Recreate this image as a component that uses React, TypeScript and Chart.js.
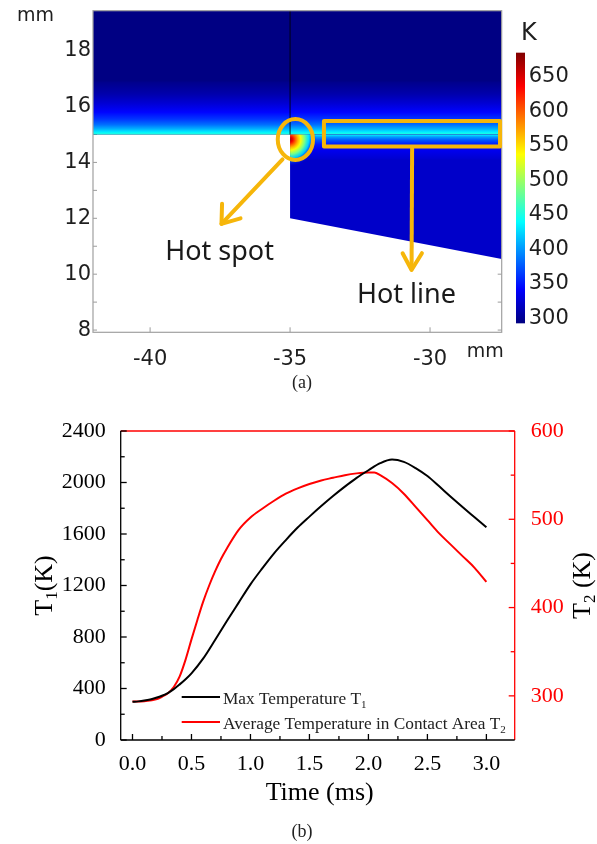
import React, { useEffect, useRef } from "react";
import { Chart, registerables } from "chart.js";
Chart.register(...registerables);

const SANS = "'DejaVu Sans', sans-serif";
const LABEL_SANS = "'Noto Sans', sans-serif";
const SERIF = "'Liberation Serif', 'Times New Roman', serif";
const ORANGE = "#F6B60A";

// ---------------- (a) temperature field ----------------
const mapXRange = [-42.04, -27.44];
const mapYRange = [7.92, 19.43];
const mapXTicks = [-40, -35, -30];
const mapYTicks = [8, 10, 12, 14, 16, 18];
const mapTickMarksY = [8, 9, 10, 11, 12, 13, 14, 15, 16, 17, 18, 19];
const colorbarTicks = [300, 350, 400, 450, 500, 550, 600, 650];
const colorbarRange = [292.8, 684.8];
const colorbarAxisRange = [279.8, 745.6];
const interfaceY = 15.0;
const upperProfileY = [15.0, 15.08, 15.2, 15.35, 15.55, 15.8, 16.1, 16.45, 16.9];
const upperProfileT = [455, 435, 410, 385, 362, 343, 326, 310, 297];
const upperBaseT = 294;
const lowerRegionX = [-35, -27.44, -27.44, -35];
const lowerRegionY = [15, 15, 10.54, 12.0];
const lowerProfileY = [15.0, 14.92, 14.8, 14.65, 14.45, 14.1];
const lowerProfileT = [440, 405, 375, 352, 336, 323];
const lowerBaseT = 321;
const hotSpotCenter = [-35.0, 14.82];
const hotSpotRadius = [0.95, 0.95];
const hotSpotR = [0, 0.1, 0.2, 0.3, 0.4, 0.55, 0.7, 0.85, 1.0];
const hotSpotT = [665, 640, 600, 565, 535, 485, 435, 385, 340];
const domainLineX = -35;

const spotEllipseCenter = [-34.81, 14.82];
const spotEllipseRadii = [0.63, 0.73];
const lineRectX = [-33.79, -27.5];
const lineRectY = [14.57, 15.48];
const spotArrowX = [-35.27, -37.45];
const spotArrowY = [14.11, 11.8];
const spotArrowHeadX = [-37.43, -37.45, -36.77];
const spotArrowHeadY = [12.52, 11.8, 12.0];
const lineArrowX = [-30.64, -30.66];
const lineArrowY = [14.6, 10.15];
const lineArrowHeadX = [-30.98, -30.66, -30.29];
const lineArrowHeadY = [10.75, 10.15, 10.75];
const annotationLabels = ["Hot spot", "Hot line"];
const annotationLabelX = [-39.46, -32.61];
const annotationLabelY = [10.51, 8.97];

// ---------------- (b) temperature history ----------------
const t1Time = [0, 0.05, 0.1, 0.15, 0.2, 0.25, 0.3, 0.35, 0.4, 0.45, 0.5, 0.6, 0.7, 0.8, 0.9, 1.0, 1.1, 1.2, 1.3, 1.4, 1.5, 1.6, 1.7, 1.8, 1.9, 2.0, 2.1, 2.2, 2.3, 2.4, 2.5, 2.6, 2.7, 2.8, 2.9, 3.0];
const t1Values = [297, 300, 306, 315, 328, 344, 365, 395, 432, 472, 518, 634, 777, 924, 1067, 1209, 1333, 1450, 1553, 1650, 1735, 1817, 1895, 1968, 2036, 2095, 2150, 2178, 2160, 2112, 2050, 1970, 1888, 1808, 1730, 1652];
const t2Time = [0, 0.1, 0.2, 0.25, 0.3, 0.35, 0.4, 0.45, 0.5, 0.55, 0.6, 0.65, 0.7, 0.75, 0.8, 0.9, 1.0, 1.1, 1.2, 1.3, 1.4, 1.5, 1.6, 1.7, 1.8, 1.9, 2.0, 2.05, 2.1, 2.2, 2.3, 2.4, 2.5, 2.6, 2.7, 2.8, 2.9, 3.0];
const t2Values = [293.5, 294, 296, 299, 303, 310, 322, 341, 364, 386, 407, 425, 441, 455, 467, 488, 502, 512, 521, 529, 535, 540, 544, 547, 550, 552, 553, 553, 550, 541, 529, 514, 499, 484, 471, 458, 445, 429];
const timeRange = [-0.1, 3.24];
const timeTicks = [0, 0.5, 1.0, 1.5, 2.0, 2.5, 3.0];
const timeMinorTicks = [0.25, 0.75, 1.25, 1.75, 2.25, 2.75];
const t1Range = [0, 2400];
const t1Ticks = [0, 400, 800, 1200, 1600, 2000, 2400];
const t1MinorTicks = [200, 600, 1000, 1400, 1800, 2200];
const t2Range = [250, 600];
const t2Ticks = [300, 400, 500, 600];
const t2MinorTicks = [350, 450, 550];
const seriesNames = ["Max Temperature T", "Average Temperature in Contact Area T"];
const seriesSubs = ["1", "2"];

function jet(T: number, alpha = 1) {
  const t = Math.min(1, Math.max(0, (T - colorbarRange[0]) / (colorbarRange[1] - colorbarRange[0])));
  const c = (v: number) => Math.round(255 * Math.min(1, Math.max(0, v)));
  const r = c(1.5 - Math.abs(4 * t - 3));
  const g = c(1.5 - Math.abs(4 * t - 2));
  const b = c(1.5 - Math.abs(4 * t - 1));
  return `rgba(${r},${g},${b},${alpha})`;
}

function seg(ctx: any, x1: number, y1: number, x2: number, y2: number) {
  ctx.beginPath();
  ctx.moveTo(x1, y1);
  ctx.lineTo(x2, y2);
  ctx.stroke();
}

function poly(ctx: any, pts: number[][]) {
  ctx.beginPath();
  pts.forEach((p, i) => (i ? ctx.lineTo(p[0], p[1]) : ctx.moveTo(p[0], p[1])));
  ctx.stroke();
}

function drawRich(ctx: any, parts: any[], x: number, y: number, align: string, family: string) {
  let total = 0;
  parts.forEach((p) => {
    ctx.font = `${p.size}px ${family}`;
    total += ctx.measureText(p.text).width;
  });
  let cx = align === "center" ? x - total / 2 : x;
  ctx.textAlign = "left";
  ctx.textBaseline = "alphabetic";
  parts.forEach((p) => {
    ctx.font = `${p.size}px ${family}`;
    ctx.fillText(p.text, cx, y + p.dy);
    cx += ctx.measureText(p.text).width;
  });
}

function profileGradient(ctx: any, ys: any, Ys: number[], Ts: number[]) {
  const p0 = ys.getPixelForValue(Ys[0]);
  const p1 = ys.getPixelForValue(Ys[Ys.length - 1]);
  const g = ctx.createLinearGradient(0, p0, 0, p1);
  Ys.forEach((y, i) => g.addColorStop((ys.getPixelForValue(y) - p0) / (p1 - p0), jet(Ts[i])));
  return { g, p0, p1 };
}

const fieldPlugin = {
  id: "field",
  beforeDatasetsDraw(chart: any) {
    const { ctx, chartArea: a, scales } = chart;
    const xs = scales.x;
    const ys = scales.y;
    const px = (v: number) => xs.getPixelForValue(v);
    const py = (v: number) => ys.getPixelForValue(v);
    ctx.save();
    // inward tick marks
    ctx.strokeStyle = "#9c9c9c";
    ctx.lineWidth = 1;
    mapTickMarksY.forEach((v) => {
      const y = py(v);
      seg(ctx, a.left, y, a.left + 4, y);
      seg(ctx, a.right, y, a.right - 4, y);
    });
    mapXTicks.forEach((v) => {
      const x = px(v);
      seg(ctx, x, a.bottom, x, a.bottom - 5);
    });
    // upper domain
    const yI = py(interfaceY);
    ctx.fillStyle = jet(upperBaseT);
    ctx.fillRect(a.left, a.top, a.right - a.left, yI - a.top);
    const up = profileGradient(ctx, ys, upperProfileY, upperProfileT);
    ctx.fillStyle = up.g;
    ctx.fillRect(a.left, up.p1, a.right - a.left, up.p0 - up.p1);
    // lower domain
    ctx.save();
    ctx.beginPath();
    lowerRegionX.forEach((x, i) => (i ? ctx.lineTo(px(x), py(lowerRegionY[i])) : ctx.moveTo(px(x), py(lowerRegionY[i]))));
    ctx.closePath();
    ctx.clip();
    ctx.fillStyle = jet(lowerBaseT);
    ctx.fillRect(a.left, a.top, a.right - a.left, a.bottom - a.top);
    const lo = profileGradient(ctx, ys, lowerProfileY, lowerProfileT);
    ctx.fillStyle = lo.g;
    ctx.fillRect(a.left, lo.p0, a.right - a.left, lo.p1 - lo.p0);
    // hot spot
    const cx = px(hotSpotCenter[0]);
    const cy = py(hotSpotCenter[1]);
    const rx = px(hotSpotCenter[0] + hotSpotRadius[0]) - cx;
    const ry = py(hotSpotCenter[1] - hotSpotRadius[1]) - cy;
    ctx.translate(cx, cy);
    ctx.scale(rx, ry);
    const rg = ctx.createRadialGradient(0, 0, 0, 0, 0, 1);
    const rMax = hotSpotR[hotSpotR.length - 1];
    hotSpotR.forEach((r, i) => {
      const f = r / rMax;
      const alpha = Math.min(1, (1 - f) / 0.35);
      rg.addColorStop(f, jet(hotSpotT[i], alpha));
    });
    ctx.fillStyle = rg;
    ctx.beginPath();
    ctx.arc(0, 0, 1, 0, Math.PI * 2);
    ctx.fill();
    ctx.restore();
    // domain boundary line
    ctx.strokeStyle = "rgba(0,0,0,0.85)";
    ctx.lineWidth = 1;
    seg(ctx, px(domainLineX), a.top, px(domainLineX), yI);
    // frame
    ctx.strokeStyle = "#a0a0a0";
    ctx.lineWidth = 1.2;
    ctx.strokeRect(a.left, a.top, a.right - a.left, a.bottom - a.top);
    ctx.restore();
  },
  afterDatasetsDraw(chart: any) {
    const { ctx, chartArea: a, scales } = chart;
    const xs = scales.x;
    const ys = scales.y;
    const cb = scales.cb;
    const px = (v: number) => xs.getPixelForValue(v);
    const py = (v: number) => ys.getPixelForValue(v);
    ctx.save();
    // colour bar
    const yTop = cb.getPixelForValue(colorbarRange[1]);
    const yBot = cb.getPixelForValue(colorbarRange[0]);
    const g = ctx.createLinearGradient(0, yBot, 0, yTop);
    for (let i = 0; i <= 32; i++) {
      const f = i / 32;
      g.addColorStop(f, jet(colorbarRange[0] + f * (colorbarRange[1] - colorbarRange[0])));
    }
    ctx.fillStyle = g;
    ctx.fillRect(a.right + 14.3, yTop, 9, yBot - yTop);
    ctx.fillStyle = "#1e1e1e";
    ctx.font = `24px ${SANS}`;
    ctx.textAlign = "left";
    ctx.textBaseline = "alphabetic";
    ctx.fillText("K", a.right + 19.3, yTop - 12.7);
    ctx.font = `19px ${SANS}`;
    ctx.fillText("mm", a.left - 76, a.top + 10);
    ctx.textAlign = "right";
    ctx.fillText("mm", a.right + 2, a.bottom + 24.4);
    // annotations
    ctx.strokeStyle = ORANGE;
    ctx.lineWidth = 4;
    ctx.lineJoin = "round";
    ctx.lineCap = "round";
    const ecx = px(spotEllipseCenter[0]);
    const ecy = py(spotEllipseCenter[1]);
    ctx.beginPath();
    ctx.ellipse(ecx, ecy, px(spotEllipseCenter[0] + spotEllipseRadii[0]) - ecx, py(spotEllipseCenter[1] - spotEllipseRadii[1]) - ecy, 0, 0, Math.PI * 2);
    ctx.stroke();
    ctx.strokeRect(px(lineRectX[0]), py(lineRectY[1]), px(lineRectX[1]) - px(lineRectX[0]), py(lineRectY[0]) - py(lineRectY[1]));
    poly(ctx, spotArrowX.map((x, i) => [px(x), py(spotArrowY[i])]));
    poly(ctx, spotArrowHeadX.map((x, i) => [px(x), py(spotArrowHeadY[i])]));
    ctx.lineCap = "butt";
    poly(ctx, lineArrowX.map((x, i) => [px(x), py(lineArrowY[i])]));
    ctx.lineCap = "round";
    poly(ctx, lineArrowHeadX.map((x, i) => [px(x), py(lineArrowHeadY[i])]));
    ctx.fillStyle = "#1a1a1a";
    ctx.font = `27px ${LABEL_SANS}`;
    ctx.textAlign = "left";
    annotationLabels.forEach((t, i) => ctx.fillText(t, px(annotationLabelX[i]), py(annotationLabelY[i])));
    ctx.restore();
  },
};

const frameBPlugin = {
  id: "frameB",
  afterDatasetsDraw(chart: any) {
    const { ctx, chartArea: a, scales } = chart;
    const xs = scales.x;
    const y1 = scales.y;
    const y2 = scales.y2;
    ctx.save();
    ctx.lineWidth = 1.3;
    // red frame parts
    ctx.strokeStyle = "#ff0000";
    seg(ctx, a.left, a.top, a.right, a.top);
    seg(ctx, a.right, a.top, a.right, a.bottom);
    t2Ticks.forEach((v) => seg(ctx, a.right, y2.getPixelForValue(v), a.right - 6, y2.getPixelForValue(v)));
    t2MinorTicks.forEach((v) => seg(ctx, a.right, y2.getPixelForValue(v), a.right - 4, y2.getPixelForValue(v)));
    // black frame parts
    ctx.strokeStyle = "#000";
    seg(ctx, a.left, a.top, a.left, a.bottom);
    seg(ctx, a.left, a.bottom, a.right, a.bottom);
    t1Ticks.forEach((v) => seg(ctx, a.left, y1.getPixelForValue(v), a.left + 6, y1.getPixelForValue(v)));
    t1MinorTicks.forEach((v) => seg(ctx, a.left, y1.getPixelForValue(v), a.left + 4, y1.getPixelForValue(v)));
    timeTicks.forEach((v) => seg(ctx, xs.getPixelForValue(v), a.bottom, xs.getPixelForValue(v), a.bottom - 6));
    timeMinorTicks.forEach((v) => seg(ctx, xs.getPixelForValue(v), a.bottom, xs.getPixelForValue(v), a.bottom - 4));
    // legend
    const colors = ["#000", "#ff0000"];
    seriesNames.forEach((name, i) => {
      const ly = a.top + 266 + i * 25;
      ctx.strokeStyle = colors[i];
      ctx.lineWidth = 2;
      seg(ctx, a.left + 61, ly, a.left + 99.3, ly);
      ctx.fillStyle = "#222";
      drawRich(ctx, [{ text: name, size: 17.3, dy: 0 }, { text: seriesSubs[i], size: 11, dy: 4 }], a.left + 102.3, ly + 7, "left", SERIF);
    });
    // axis titles
    ctx.fillStyle = "#000";
    const midY = (a.top + a.bottom) / 2;
    ctx.save();
    ctx.translate(a.left - 68.7, midY);
    ctx.rotate(-Math.PI / 2);
    drawRich(ctx, [{ text: "T", size: 26, dy: 0 }, { text: "1", size: 17, dy: 5 }, { text: "(K)", size: 26, dy: 0 }], 0, 0, "center", SERIF);
    ctx.restore();
    ctx.save();
    ctx.translate(a.right + 75, midY);
    ctx.rotate(-Math.PI / 2);
    drawRich(ctx, [{ text: "T", size: 26, dy: 0 }, { text: "2", size: 17, dy: 5 }, { text: " (K)", size: 26, dy: 0 }], 0, 0, "center", SERIF);
    ctx.restore();
    drawRich(ctx, [{ text: "Time (ms)", size: 26, dy: 0 }], (a.left + a.right) / 2 + 2, a.bottom + 60, "center", SERIF);
    ctx.restore();
  },
};

// invisible grid used only to offset tick labels without adding top padding
const spacerGrid = (len: number) => ({ display: true, drawOnChartArea: false, drawTicks: true, tickLength: len, color: "rgba(0,0,0,0)" });

function topConfig(): any {
  return {
    type: "scatter",
    data: { datasets: [] },
    options: {
      responsive: false,
      animation: false,
      devicePixelRatio: 1,
      layout: { autoPadding: false, padding: { top: 10.7, left: 0, right: 0, bottom: 0 } },
      plugins: { legend: { display: false }, tooltip: { enabled: false } },
      scales: {
        x: {
          type: "linear",
          position: "bottom",
          min: mapXRange[0],
          max: mapXRange[1],
          grid: { display: false },
          border: { display: false },
          afterBuildTicks: (s: any) => { s.ticks = mapXTicks.map((v) => ({ value: v })); },
          afterFit: (s: any) => { s.height = 67.7; },
          ticks: { font: { family: SANS, size: 21 }, color: "#1e1e1e", padding: 6.5, maxRotation: 0, autoSkip: false, callback: (v: any) => String(v) },
        },
        y: {
          type: "linear",
          position: "left",
          min: mapYRange[0],
          max: mapYRange[1],
          grid: spacerGrid(2),
          border: { display: false },
          afterBuildTicks: (s: any) => { s.ticks = mapYTicks.map((v) => ({ value: v })); },
          afterFit: (s: any) => { s.width = 93; },
          ticks: { font: { family: SANS, size: 21, lineHeight: 0.5 }, color: "#1e1e1e", padding: 0, autoSkip: false, callback: (v: any) => String(v) },
        },
        cb: {
          type: "linear",
          axis: "y",
          position: "right",
          min: colorbarAxisRange[0],
          max: colorbarAxisRange[1],
          grid: spacerGrid(27),
          border: { display: false },
          afterBuildTicks: (s: any) => { s.ticks = colorbarTicks.map((v) => ({ value: v })); },
          afterFit: (s: any) => { s.width = 95.3; },
          ticks: { font: { family: SANS, size: 21, lineHeight: 0.5 }, color: "#1e1e1e", padding: 0, autoSkip: false, callback: (v: any) => String(v) },
        },
      },
    },
    plugins: [fieldPlugin],
  };
}

function bottomConfig(): any {
  return {
    type: "line",
    data: {
      datasets: [
        {
          label: seriesNames[0] + seriesSubs[0],
          data: t1Time.map((t, i) => ({ x: t, y: t1Values[i] })),
          borderColor: "#000000",
          borderWidth: 2,
          pointRadius: 0,
          cubicInterpolationMode: "monotone",
          yAxisID: "y",
        },
        {
          label: seriesNames[1] + seriesSubs[1],
          data: t2Time.map((t, i) => ({ x: t, y: t2Values[i] })),
          borderColor: "#ff0000",
          borderWidth: 2,
          pointRadius: 0,
          cubicInterpolationMode: "monotone",
          yAxisID: "y2",
        },
      ],
    },
    options: {
      responsive: false,
      animation: false,
      devicePixelRatio: 1,
      layout: { autoPadding: false, padding: { top: 31, left: 0, right: 0, bottom: 0 } },
      plugins: { legend: { display: false }, tooltip: { enabled: false } },
      scales: {
        x: {
          type: "linear",
          min: timeRange[0],
          max: timeRange[1],
          grid: { display: false },
          border: { display: false },
          afterBuildTicks: (s: any) => { s.ticks = timeTicks.map((v) => ({ value: v })); },
          afterFit: (s: any) => { s.height = 104; },
          ticks: { font: { family: SERIF, size: 22 }, color: "#000", padding: 3, maxRotation: 0, autoSkip: false, callback: (v: any) => Number(v).toFixed(1) },
        },
        y: {
          type: "linear",
          position: "left",
          min: t1Range[0],
          max: t1Range[1],
          grid: { display: false },
          border: { display: false },
          afterBuildTicks: (s: any) => { s.ticks = t1Ticks.map((v) => ({ value: v })); },
          afterFit: (s: any) => { s.width = 120.7; },
          ticks: { font: { family: SERIF, size: 22 }, color: "#000", padding: 7, autoSkip: false, callback: (v: any) => String(v) },
        },
        y2: {
          type: "linear",
          position: "right",
          min: t2Range[0],
          max: t2Range[1],
          grid: { display: false },
          border: { display: false },
          afterBuildTicks: (s: any) => { s.ticks = t2Ticks.map((v) => ({ value: v })); },
          afterFit: (s: any) => { s.width = 82.3; },
          ticks: { font: { family: SERIF, size: 22 }, color: "#ff0000", padding: 8, autoSkip: false, callback: (v: any) => String(v) },
        },
      },
    },
    plugins: [frameBPlugin],
  };
}

const captionStyle = (top: number): any => ({
  position: "absolute",
  left: 0,
  top,
  width: 604,
  textAlign: "center",
  fontFamily: SERIF,
  fontSize: 18,
  lineHeight: "22px",
  color: "#222",
});

export default function App() {
  const topRef = useRef<HTMLCanvasElement>(null);
  const botRef = useRef<HTMLCanvasElement>(null);
  useEffect(() => {
    const c1 = new Chart(topRef.current as HTMLCanvasElement, topConfig());
    const c2 = new Chart(botRef.current as HTMLCanvasElement, bottomConfig());
    return () => {
      c1.destroy();
      c2.destroy();
    };
  }, []);
  return (
    <div style={{ position: "absolute", left: 0, top: 0, width: 597, height: 844, background: "#fff" }}>
      <canvas ref={topRef} width={597} height={400} style={{ position: "absolute", left: 0, top: 0, width: 597, height: 400 }} />
      <canvas ref={botRef} width={597} height={444} style={{ position: "absolute", left: 0, top: 400, width: 597, height: 444 }} />
      <div style={captionStyle(371)}>(a)</div>
      <div style={captionStyle(820)}>(b)</div>
    </div>
  );
}
